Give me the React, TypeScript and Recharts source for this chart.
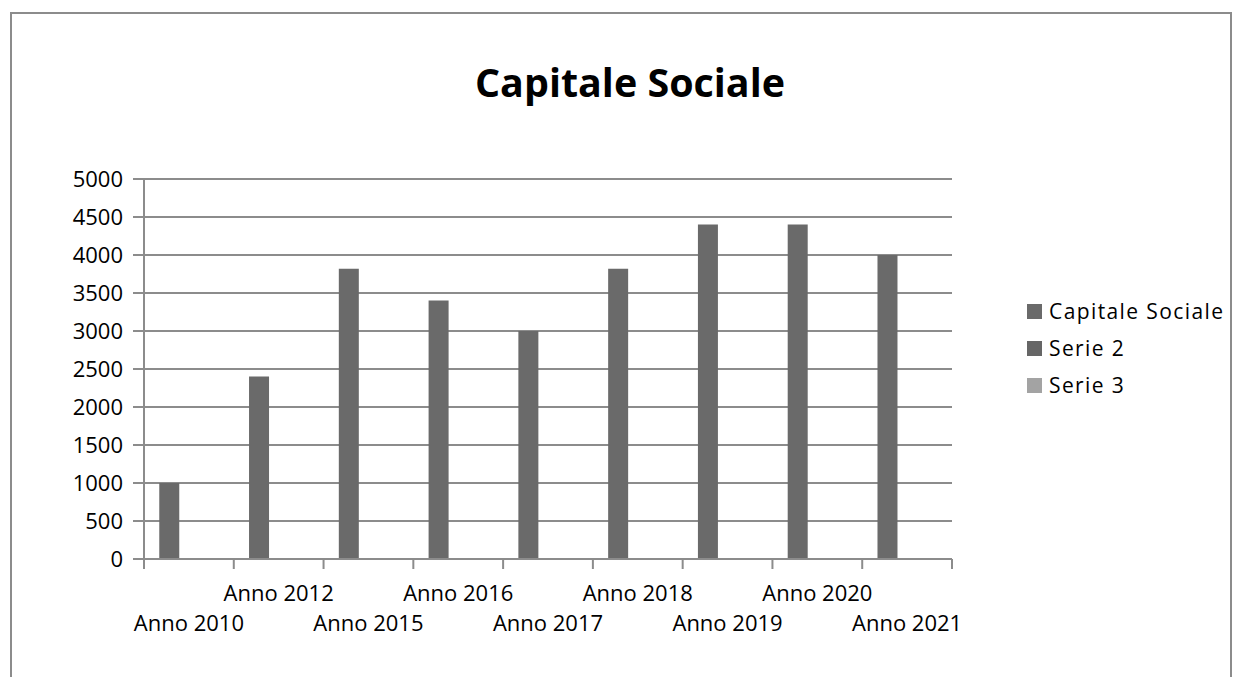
import { BarChart, Bar, XAxis, YAxis, CartesianGrid } from "recharts";

const years = [
  "Anno 2010",
  "Anno 2012",
  "Anno 2015",
  "Anno 2016",
  "Anno 2017",
  "Anno 2018",
  "Anno 2019",
  "Anno 2020",
  "Anno 2021",
];
const capitaleSociale = [1000, 2400, 3820, 3400, 3000, 3820, 4400, 4400, 4000];
const serie2 = [0, 0, 0, 0, 0, 0, 0, 0, 0];
const serie3 = [0, 0, 0, 0, 0, 0, 0, 0, 0];
const yTicks = [0, 500, 1000, 1500, 2000, 2500, 3000, 3500, 4000, 4500, 5000];

const seriesNames = ["Capitale Sociale", "Serie 2", "Serie 3"];
const seriesColors = ["#6a6a6a", "#666666", "#a3a3a3"];

const data = years.map((year, i) => ({
  year,
  capitale: capitaleSociale[i],
  s2: serie2[i],
  s3: serie3[i],
}));

const W = 1239;
const H = 677;
const PLOT_LEFT = 144;
const PLOT_RIGHT = 952;
const PLOT_TOP = 179;
const PLOT_BOTTOM = 559;
const BAND = (PLOT_RIGHT - PLOT_LEFT) / years.length;
const FONT = "'Open Sans', 'DejaVu Sans', sans-serif";
const AXIS_GREY = "#8c8c8c";

function XTick(props: any) {
  const { x, y, payload, index } = props;
  const i = index ?? payload.index;
  const isLast = i === years.length - 1;
  return (
    <g>
      <line x1={x - BAND / 2} y1={y} x2={x - BAND / 2} y2={y + 10} stroke={AXIS_GREY} strokeWidth={2} />
      {isLast && (
        <line x1={x + BAND / 2} y1={y} x2={x + BAND / 2} y2={y + 10} stroke={AXIS_GREY} strokeWidth={2} />
      )}
      <text
        x={x}
        y={y + (i % 2 === 1 ? 42 : 72)}
        textAnchor="middle"
        fontFamily={FONT}
        fontSize={22}
        fill="#000"
      >
        {payload.value}
      </text>
    </g>
  );
}

export default function App() {
  return (
    <div
      style={{
        position: "absolute",
        left: 0,
        top: 0,
        width: W,
        height: H,
        overflow: "hidden",
        background: "#fff",
      }}
    >
      <div
        style={{
          position: "absolute",
          left: 10,
          top: 12,
          width: 1218,
          height: 720,
          border: `2px solid ${AXIS_GREY}`,
        }}
      />
      <div style={{ position: "absolute", left: 0, top: 0 }}>
        <BarChart
          width={W}
          height={H}
          data={data}
          margin={{ top: PLOT_TOP, right: W - PLOT_RIGHT, bottom: 0, left: 0 }}
          barCategoryGap="17%"
          barGap={0}
        >
          <CartesianGrid vertical={false} stroke={AXIS_GREY} strokeWidth={2} />
          <XAxis
            dataKey="year"
            height={H - PLOT_BOTTOM}
            interval={0}
            tickLine={false}
            tickSize={0}
            tickMargin={0}
            axisLine={{ stroke: AXIS_GREY, strokeWidth: 2 }}
            tick={<XTick />}
          />
          <YAxis
            width={PLOT_LEFT}
            domain={[0, 5000]}
            ticks={yTicks}
            interval={0}
            tickSize={11}
            tickMargin={10}
            tickLine={{ stroke: AXIS_GREY, strokeWidth: 2 }}
            axisLine={{ stroke: AXIS_GREY, strokeWidth: 2 }}
            tick={{ fill: "#000", fontSize: 22, fontFamily: FONT }}
          />
          <Bar dataKey="capitale" name={seriesNames[0]} fill={seriesColors[0]} isAnimationActive={false} />
          <Bar dataKey="s2" name={seriesNames[1]} fill={seriesColors[1]} isAnimationActive={false} />
          <Bar dataKey="s3" name={seriesNames[2]} fill={seriesColors[2]} isAnimationActive={false} />
        </BarChart>
      </div>
      <svg
        width={W}
        height={H}
        style={{ position: "absolute", left: 0, top: 0, pointerEvents: "none" }}
      >
        <text
          x={630}
          y={97}
          textAnchor="middle"
          fontFamily={FONT}
          fontWeight="bold"
          fontSize={40}
          textLength={310}
          lengthAdjust="spacingAndGlyphs"
          fill="#000"
        >
          Capitale Sociale
        </text>
        {seriesNames.map((name, i) => (
          <g key={name}>
            <rect x={1027} y={304 + i * 37} width={15} height={15} fill={seriesColors[i]} />
            <text
              x={1049}
              y={319 + i * 37}
              fontFamily={FONT}
              fontSize={21}
              letterSpacing={1.4}
              fill="#000"
            >
              {name}
            </text>
          </g>
        ))}
      </svg>
    </div>
  );
}
